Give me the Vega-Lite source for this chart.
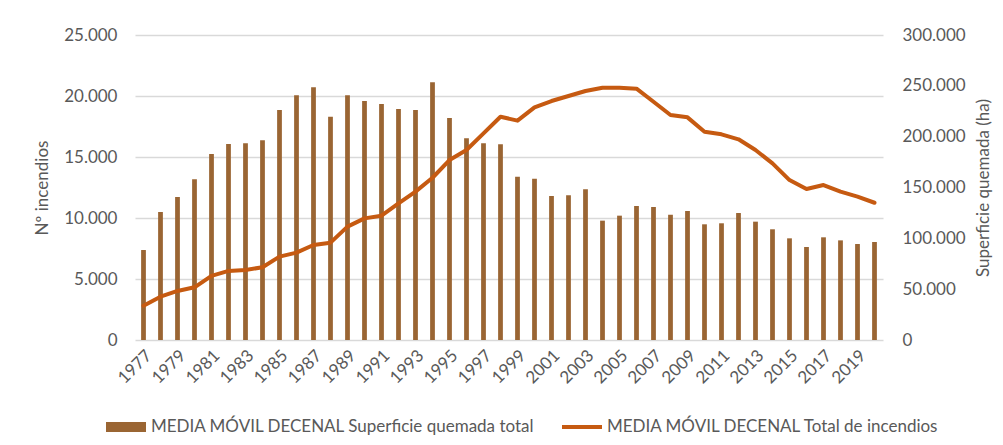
{
  "$schema": "https://vega.github.io/schema/vega-lite/v6.json",
  "width": 748,
  "height": 305,
  "autosize": {"type": "none"},
  "padding": {"left": 135, "top": 35, "right": 120, "bottom": 105},
  "background": "white",
  "config": {
    "font": "Lato",
    "view": {"stroke": null},
    "axis": {"labelColor": "#595959", "titleColor": "#595959", "labelFont": "Lato", "titleFont": "Lato", "titleFontWeight": "normal", "labelOverlap": false}
  },
  "data": {
    "values": [
      {"year": 1977, "sup": 88500, "inc": 2810},
      {"year": 1978, "sup": 125900, "inc": 3550},
      {"year": 1979, "sup": 140700, "inc": 4020},
      {"year": 1980, "sup": 158000, "inc": 4320},
      {"year": 1981, "sup": 183000, "inc": 5250},
      {"year": 1982, "sup": 192800, "inc": 5660},
      {"year": 1983, "sup": 193500, "inc": 5740},
      {"year": 1984, "sup": 196400, "inc": 5960},
      {"year": 1985, "sup": 226200, "inc": 6830},
      {"year": 1986, "sup": 240700, "inc": 7160},
      {"year": 1987, "sup": 248500, "inc": 7790},
      {"year": 1988, "sup": 219700, "inc": 7980},
      {"year": 1989, "sup": 240700, "inc": 9290},
      {"year": 1990, "sup": 235100, "inc": 9970},
      {"year": 1991, "sup": 232100, "inc": 10190},
      {"year": 1992, "sup": 227200, "inc": 11200},
      {"year": 1993, "sup": 226200, "inc": 12160},
      {"year": 1994, "sup": 253500, "inc": 13300},
      {"year": 1995, "sup": 218400, "inc": 14750},
      {"year": 1996, "sup": 198400, "inc": 15570},
      {"year": 1997, "sup": 193500, "inc": 16940},
      {"year": 1998, "sup": 192500, "inc": 18300},
      {"year": 1999, "sup": 160600, "inc": 17980},
      {"year": 2000, "sup": 158700, "inc": 19070},
      {"year": 2001, "sup": 141600, "inc": 19590},
      {"year": 2002, "sup": 142300, "inc": 20000},
      {"year": 2003, "sup": 148200, "inc": 20410},
      {"year": 2004, "sup": 117400, "inc": 20680},
      {"year": 2005, "sup": 122300, "inc": 20680},
      {"year": 2006, "sup": 131800, "inc": 20600},
      {"year": 2007, "sup": 130800, "inc": 19530},
      {"year": 2008, "sup": 123200, "inc": 18440},
      {"year": 2009, "sup": 126900, "inc": 18250},
      {"year": 2010, "sup": 113800, "inc": 17070},
      {"year": 2011, "sup": 114800, "inc": 16860},
      {"year": 2012, "sup": 124900, "inc": 16450},
      {"year": 2013, "sup": 116400, "inc": 15570},
      {"year": 2014, "sup": 108900, "inc": 14480},
      {"year": 2015, "sup": 100000, "inc": 13110},
      {"year": 2016, "sup": 91500, "inc": 12380},
      {"year": 2017, "sup": 101000, "inc": 12700},
      {"year": 2018, "sup": 98000, "inc": 12160},
      {"year": 2019, "sup": 94400, "inc": 11750},
      {"year": 2020, "sup": 96400, "inc": 11250}
    ]
  },
  "encoding": {
    "x": {
      "field": "year",
      "type": "ordinal",
      "scale": {"paddingInner": 0.72, "paddingOuter": 0.36},
      "axis": {
        "title": null,
        "values": [1977, 1979, 1981, 1983, 1985, 1987, 1989, 1991, 1993, 1995, 1997, 1999, 2001, 2003, 2005, 2007, 2009, 2011, 2013, 2015, 2017, 2019],
        "labelAngle": -45,
        "labelFontSize": 17,
        "ticks": false,
        "domain": false,
        "labelPadding": 7
      }
    }
  },
  "layer": [
    {
      "mark": {"type": "bar"},
      "encoding": {
        "y": {
          "field": "sup",
          "type": "quantitative",
          "scale": {"domain": [0, 300000], "nice": false},
          "axis": {
            "orient": "right",
            "title": "Superficie quemada (ha)",
            "titleAngle": 270,
            "titleBaseline": "top",
            "titleFontSize": 17,
            "titlePadding": 10,
            "labelFontSize": 17,
            "labelPadding": 19,
            "ticks": false,
            "domain": false,
            "grid": false,
            "values": [0, 50000, 100000, 150000, 200000, 250000, 300000],
            "labelExpr": "replace(format(datum.value, ','), ',', '.')"
          }
        },
        "color": {
          "datum": "MEDIA MÓVIL DECENAL Superficie quemada total",
          "scale": {
            "domain": ["MEDIA MÓVIL DECENAL Superficie quemada total", "MEDIA MÓVIL DECENAL Total de incendios"],
            "range": ["#9A6533", "#C65A11"]
          },
          "legend": {
            "orient": "none",
            "legendX": -29,
            "legendY": 372,
            "direction": "horizontal",
            "title": null,
            "labelFontSize": 17,
            "labelColor": "#595959",
            "labelFont": "Lato",
            "labelOffset": 5,
            "columnPadding": 26,
            "symbolSize": 1600,
            "symbolStrokeWidth": 0,
            "labelLimit": 500,
            "encode": {
              "symbols": {
                "update": {
                  "shape": {"signal": "datum.index === 0 ? 'M-1,-0.25L1,-0.25L1,0.25L-1,0.25Z' : 'M-1,-0.1L1,-0.1L1,0.1L-1,0.1Z'"},
                  "fill": {"signal": "datum.index === 0 ? '#9A6533' : '#C65A11'"},
                  "stroke": {"value": null},
                  "strokeWidth": {"value": 0}
                }
              }
            }
          }
        }
      }
    },
    {
      "mark": {"type": "line", "strokeWidth": 4, "strokeCap": "round", "strokeJoin": "round"},
      "encoding": {
        "y": {
          "field": "inc",
          "type": "quantitative",
          "scale": {"domain": [0, 25000], "nice": false},
          "axis": {
            "orient": "left",
            "title": "Nº incendios",
            "titleFontSize": 17,
            "titlePadding": 12,
            "labelFontSize": 17,
            "labelPadding": 18,
            "ticks": false,
            "domain": false,
            "grid": true,
            "gridColor": "#D9D9D9",
            "gridWidth": 1.3,
            "values": [0, 5000, 10000, 15000, 20000, 25000],
            "labelExpr": "replace(format(datum.value, ','), ',', '.')"
          }
        },
        "color": {"datum": "MEDIA MÓVIL DECENAL Total de incendios"}
      }
    }
  ],
  "resolve": {"scale": {"y": "independent"}}
}
